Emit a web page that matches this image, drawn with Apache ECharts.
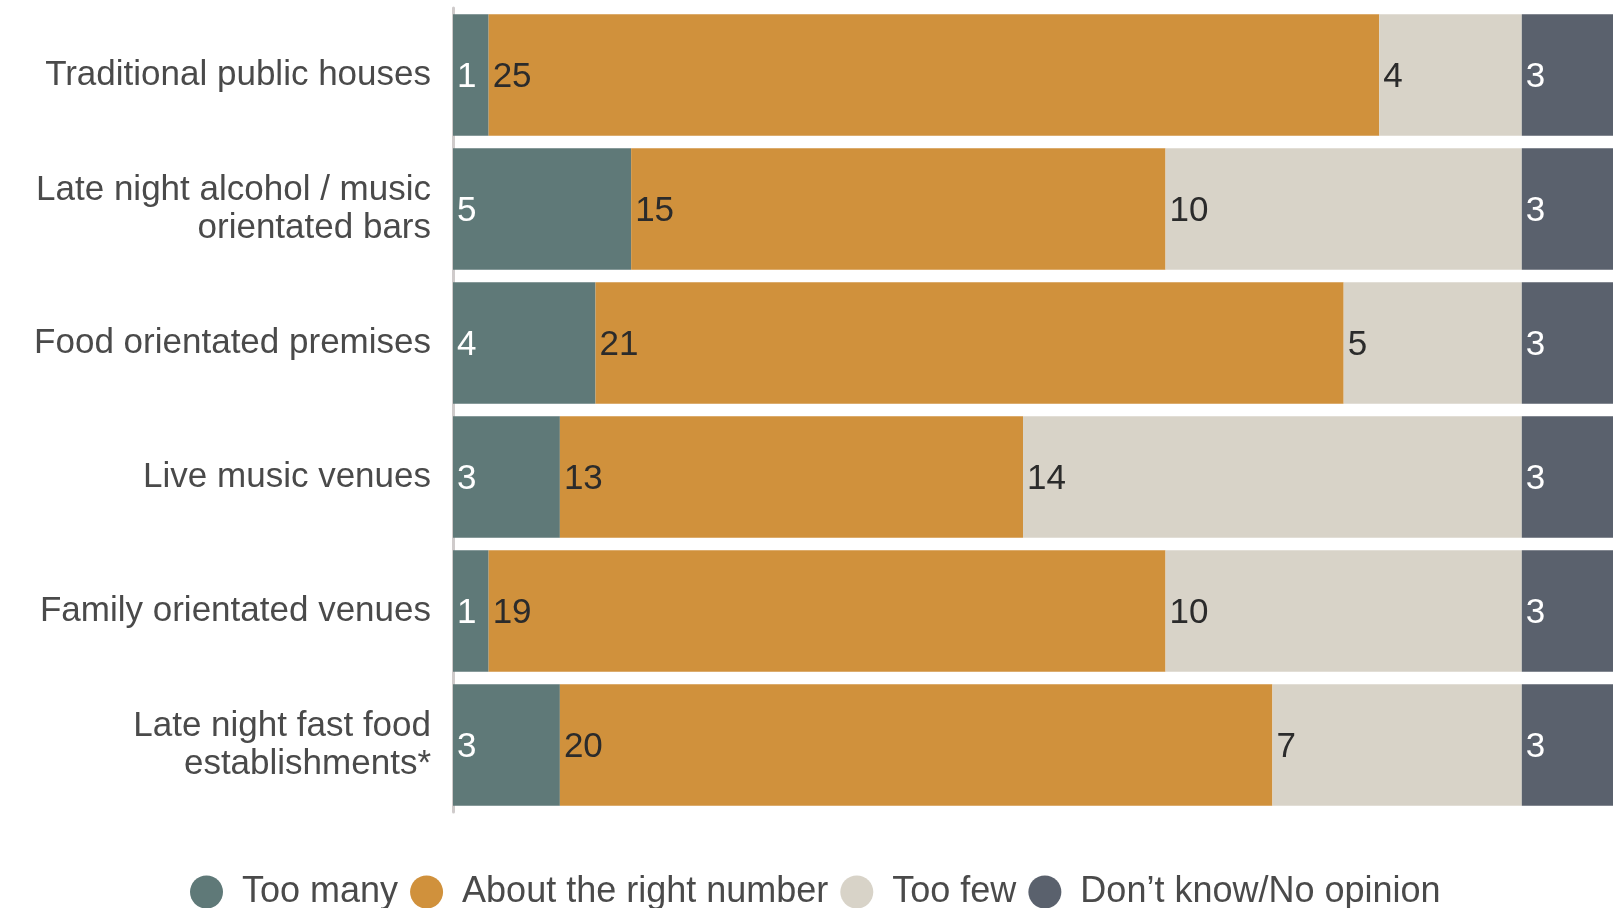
<!DOCTYPE html>
<html>
<head>
<meta charset="utf-8">
<script src="https://cdn.jsdelivr.net/npm/echarts@6/dist/echarts.min.js"></script>
<style>
html,body{margin:0;padding:0;background:#fff;}
#chart{width:1613px;height:908px;}
</style>
</head>
<body>
<div id="chart"></div>
<script>
const categories = [
  "Traditional public houses",
  "Late night alcohol / music\norientated bars",
  "Food orientated premises",
  "Live music venues",
  "Family orientated venues",
  "Late night fast food\nestablishments*"
];
const seriesNames = ["Too many", "About the right number", "Too few", "Don\u2019t know/No opinion"];
const tooMany = [1, 5, 4, 3, 1, 3];
const aboutRight = [25, 15, 21, 13, 19, 20];
const tooFew = [4, 10, 5, 14, 10, 7];
const dontKnow = [3, 3, 3, 3, 3, 3];

const colors = ["#5f7978", "#d0913c", "#d8d3c8", "#5a616d"];
const labelColors = ["#ffffff", "#2b2b2b", "#2b2b2b", "#ffffff"];
const FONT = "Liberation Sans";

const chart = echarts.init(document.getElementById('chart'), null, {renderer: 'canvas'});
const dataSets = [tooMany, aboutRight, tooFew, dontKnow];

chart.setOption({
  animation: false,
  backgroundColor: '#ffffff',
  textStyle: {fontFamily: FONT},
  grid: {left: 453, right: 0, top: 8, bottom: 96, containLabel: false},
  legend: {
    data: seriesNames,
    left: 190,
    top: 874,
    padding: 0,
    icon: 'circle',
    itemWidth: 33,
    itemHeight: 33,
    itemGap: 12,
    textStyle: {fontFamily: FONT, fontSize: 36, color: '#4a4a4a', padding: [4, 0, 0, 14]}
  },
  xAxis: {
    type: 'value',
    min: 0,
    max: 32.56,
    show: false
  },
  yAxis: {
    type: 'category',
    data: categories,
    inverse: true,
    axisLine: {show: true, lineStyle: {color: '#cfcbcb', width: 3}},
    axisTick: {show: false},
    splitLine: {show: false},
    axisLabel: {
      fontFamily: FONT,
      fontSize: 35,
      color: '#4a4a4a',
      margin: 22,
      lineHeight: 38,
      align: 'right',
      padding: [8, 0, 0, 0]
    }
  },
  series: seriesNames.map((name, i) => ({
    name: name,
    type: 'bar',
    stack: 'total',
    barCategoryGap: '9.3%',
    data: dataSets[i],
    itemStyle: {color: colors[i]},
    label: {
      show: true,
      position: 'insideLeft',
      distance: 4,
      offset: [0, 2],
      fontFamily: FONT,
      fontSize: 35,
      color: labelColors[i]
    }
  }))
});
</script>
</body>
</html>
